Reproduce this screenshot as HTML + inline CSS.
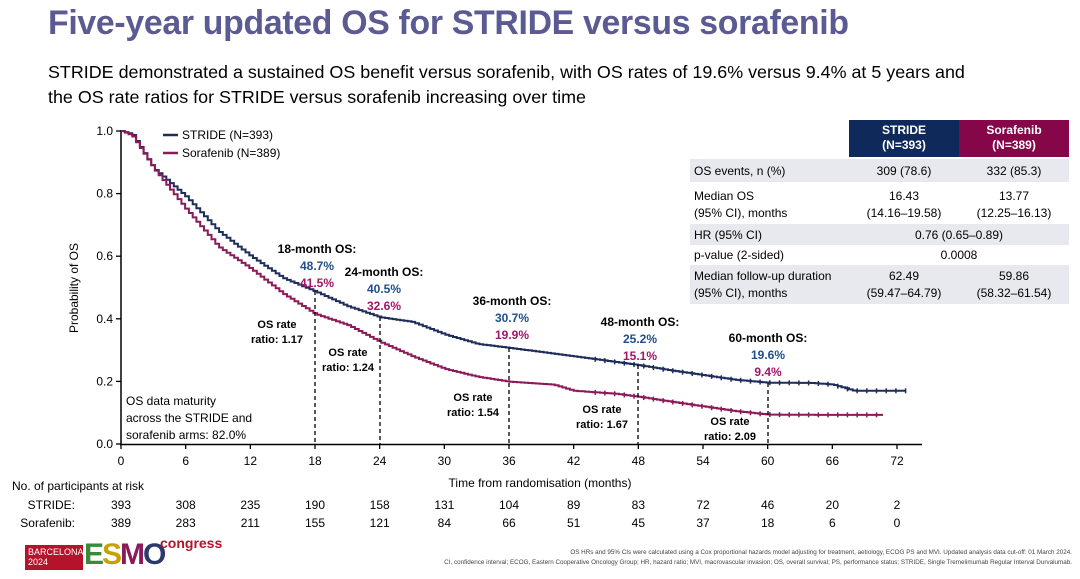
<!DOCTYPE html>
<html><head><meta charset="utf-8"><style>
body{margin:0;width:1080px;height:579px;background:#fff;font-family:"Liberation Sans",Arial,sans-serif;overflow:hidden;position:relative}
.a{position:absolute;white-space:nowrap}
</style></head><body>
<div class="a" style="left:48px;top:4px;font-size:33.8px;font-weight:bold;color:#5b5a93;letter-spacing:-0.3px">Five-year updated OS for STRIDE versus sorafenib</div>
<div class="a" style="left:48px;top:60px;font-size:17.9px;color:#000;line-height:25px">STRIDE demonstrated a sustained OS benefit versus sorafenib, with OS rates of 19.6% versus 9.4% at 5 years and<br>the OS rate ratios for STRIDE versus sorafenib increasing over time</div>

<svg class="a" style="left:0;top:0" width="1080" height="579" font-family="Liberation Sans, Arial, sans-serif">
<g stroke="#000" stroke-width="1.5" fill="none">
<line x1="121" y1="130" x2="121" y2="445"/>
<line x1="120" y1="444.5" x2="922" y2="444.5"/>
</g>
<g id="yt" font-size="12" text-anchor="end"></g>
<g id="xt" font-size="12" text-anchor="middle"></g>
<text x="78" y="288" font-size="12" transform="rotate(-90 78 288)" text-anchor="middle">Probability of OS</text>
<text x="540" y="487" font-size="12" text-anchor="middle">Time from randomisation (months)</text>
<g id="curves"></g>
<line x1="163" y1="135" x2="178" y2="135" stroke="#1f2d5c" stroke-width="2.5"/>
<text x="182" y="139" font-size="12">STRIDE (N=393)</text>
<line x1="163" y1="153" x2="178" y2="153" stroke="#8b1a5a" stroke-width="2.5"/>
<text x="182" y="157" font-size="12">Sorafenib (N=389)</text>
<g font-size="12" text-anchor="middle" font-weight="bold">
<text x="317" y="253">18-month OS:</text><text x="317" y="270" fill="#1f4e8c">48.7%</text><text x="317" y="287" fill="#a0166a">41.5%</text>
<text x="384" y="276">24-month OS:</text><text x="384" y="293" fill="#1f4e8c">40.5%</text><text x="384" y="310" fill="#a0166a">32.6%</text>
<text x="512" y="305">36-month OS:</text><text x="512" y="322" fill="#1f4e8c">30.7%</text><text x="512" y="339" fill="#a0166a">19.9%</text>
<text x="640" y="326">48-month OS:</text><text x="640" y="343" fill="#1f4e8c">25.2%</text><text x="640" y="360" fill="#a0166a">15.1%</text>
<text x="768" y="342">60-month OS:</text><text x="768" y="359" fill="#1f4e8c">19.6%</text><text x="768" y="376" fill="#a0166a">9.4%</text>
</g>
<g font-size="11" text-anchor="middle" font-weight="bold">
<text x="277" y="328">OS rate</text><text x="277" y="343">ratio: 1.17</text>
<text x="348" y="356">OS rate</text><text x="348" y="371">ratio: 1.24</text>
<text x="473" y="401">OS rate</text><text x="473" y="416">ratio: 1.54</text>
<text x="602" y="413">OS rate</text><text x="602" y="428">ratio: 1.67</text>
<text x="730" y="425">OS rate</text><text x="730" y="440">ratio: 2.09</text>
</g>
<g stroke="#000" stroke-width="1.3" stroke-dasharray="4,3">
<line x1="315" y1="291" x2="315" y2="444"/>
<line x1="380" y1="317" x2="380" y2="444"/>
<line x1="509" y1="348" x2="509" y2="444"/>
<line x1="638" y1="365" x2="638" y2="444"/>
<line x1="768" y1="383" x2="768" y2="444"/>
</g>
<g font-size="12"><text x="126" y="405">OS data maturity</text><text x="126" y="422">across the STRIDE and</text><text x="126" y="439">sorafenib arms: 82.0%</text></g>
<text x="12" y="490" font-size="12">No. of participants at risk</text>
<g id="risk" font-size="12" text-anchor="middle"></g>
<text x="75" y="509" font-size="12" text-anchor="end">STRIDE:</text>
<text x="75" y="527" font-size="12" text-anchor="end">Sorafenib:</text>
</svg>

<div class="a" style="left:690px;top:120px;width:380px;font-size:12px">
<div style="position:absolute;left:159px;top:0;width:110px;height:37px;background:#0f2a5a;color:#fff;font-weight:bold;text-align:center;line-height:15px;padding-top:3px;box-sizing:border-box">STRIDE<br>(N=393)</div>
<div style="position:absolute;left:269px;top:0;width:110px;height:37px;background:#86064a;color:#fff;font-weight:bold;text-align:center;line-height:15px;padding-top:3px;box-sizing:border-box">Sorafenib<br>(N=389)</div>
<div style="position:absolute;left:0;top:39px;width:379px;height:23px;background:#e8e9ee"></div>
<div style="position:absolute;left:0;top:104px;width:379px;height:21px;background:#e8e9ee"></div>
<div style="position:absolute;left:0;top:145px;width:379px;height:39px;background:#e8e9ee"></div>
<div class="a" style="left:4px;top:44px">OS events, n (%)</div>
<div class="a" style="left:159px;width:110px;text-align:center;top:44px">309 (78.6)</div>
<div class="a" style="left:269px;width:110px;text-align:center;top:44px">332 (85.3)</div>
<div class="a" style="left:4px;top:68px;line-height:17px">Median OS<br>(95% CI), months</div>
<div class="a" style="left:159px;width:110px;text-align:center;top:68px;line-height:17px">16.43<br>(14.16–19.58)</div>
<div class="a" style="left:269px;width:110px;text-align:center;top:68px;line-height:17px">13.77<br>(12.25–16.13)</div>
<div class="a" style="left:4px;top:108px">HR (95% CI)</div>
<div class="a" style="left:159px;width:220px;text-align:center;top:108px">0.76 (0.65–0.89)</div>
<div class="a" style="left:4px;top:128px">p-value (2-sided)</div>
<div class="a" style="left:159px;width:220px;text-align:center;top:128px">0.0008</div>
<div class="a" style="left:4px;top:148px;line-height:17px">Median follow-up duration<br>(95% CI), months</div>
<div class="a" style="left:159px;width:110px;text-align:center;top:148px;line-height:17px">62.49<br>(59.47–64.79)</div>
<div class="a" style="left:269px;width:110px;text-align:center;top:148px;line-height:17px">59.86<br>(58.32–61.54)</div>
</div>

<div class="a" style="left:25px;top:545px;width:58px;height:25px;background:#b5122b;color:#fff;font-size:9px;line-height:10px;padding:2px 0 0 3px;box-sizing:border-box">BARCELONA<br>2024</div>
<div class="a" style="left:84px;top:539px;font-size:30px;font-weight:bold;color:#2b3a6b;letter-spacing:-2px;line-height:32px"><span style="color:#3a8a3a">E</span><span style="color:#c8a000">S</span><span style="color:#8b1a5a">M</span>O</div>
<div class="a" style="left:160px;top:535px;font-size:14px;color:#b5122b;font-weight:bold">congress</div>
<div class="a" style="right:8px;top:548px;font-size:6.3px;color:#444;text-align:right;line-height:10px">OS HRs and 95% CIs were calculated using a Cox proportional hazards model adjusting for treatment, aetiology, ECOG PS and MVI. Updated analysis data cut-off: 01 March 2024.<br>CI, confidence interval; ECOG, Eastern Cooperative Oncology Group; HR, hazard ratio; MVI, macrovascular invasion; OS, overall survival; PS, performance status; STRIDE, Single Tremelimumab Regular Interval Durvalumab.</div>

<script>
var NS="http://www.w3.org/2000/svg";
function X(m){return 121+m*776/72}
function Y(p){return 444-p*313}
function el(t,a,p,txt){var e=document.createElementNS(NS,t);for(var k in a)e.setAttribute(k,a[k]);if(txt!==undefined)e.textContent=txt;p.appendChild(e);return e}
var yt=document.getElementById('yt'),xt=document.getElementById('xt'),sv=document.querySelector('svg');
for(var i=0;i<=5;i++){var y=Y(i*0.2);el('line',{x1:116,x2:121,y1:y,y2:y,stroke:'#000','stroke-width':1.3},sv);el('text',{x:113,y:y+4},yt,(i*0.2).toFixed(1))}
for(var m=0;m<=72;m+=6){var x=X(m);el('line',{x1:x,x2:x,y1:444,y2:449,stroke:'#000','stroke-width':1.3},sv);el('text',{x:x,y:465},xt,m)}
var rs=[393,308,235,190,158,131,104,89,83,72,46,20,2],rf=[389,283,211,155,121,84,66,51,45,37,18,6,0],rk=document.getElementById('risk');
for(var j=0;j<13;j++){el('text',{x:X(j*6),y:509},rk,rs[j]);el('text',{x:X(j*6),y:527},rk,rf[j])}
var S=[[0,1],[1,0.99],[3,0.88],[6,0.79],[9,0.68],[12,0.60],[15,0.53],[18,0.487],[21,0.44],[24,0.405],[27,0.39],[30,0.35],[33,0.32],[36,0.307],[42,0.28],[48,0.252],[51,0.235],[54,0.22],[57,0.205],[60,0.196],[64,0.195],[66,0.19],[68,0.17],[73,0.17]];
var F=[[0,1],[1,0.985],[3,0.88],[6,0.75],[9,0.63],[12,0.56],[15,0.48],[18,0.415],[21,0.38],[24,0.326],[27,0.28],[30,0.24],[33,0.215],[36,0.199],[40,0.19],[42,0.17],[46,0.16],[48,0.151],[51,0.135],[54,0.12],[57,0.105],[60,0.094],[65,0.093],[71,0.093]];
function interp(P,m){for(var i=1;i<P.length;i++)if(m<=P[i][0]){var a=P[i-1],b=P[i];return a[1]+(b[1]-a[1])*(m-a[0])/(b[0]-a[0])}return P[P.length-1][1]}
var cv=document.getElementById('curves');
function draw(P,col){var end=P[P.length-1][0],d='M'+X(0)+','+Y(1);
for(var m=0.35;m<=end;m+=0.35){var v=interp(P,m);d+='H'+X(m).toFixed(1)+'V'+Y(v).toFixed(1)}
el('path',{d:d,fill:'none',stroke:col,'stroke-width':2},cv);
for(var m=44;m<end;m+=0.9){el('line',{x1:X(m),x2:X(m),y1:Y(interp(P,m))-2.5,y2:Y(interp(P,m))+2.5,stroke:col,'stroke-width':1.5},cv)}}
draw(S,'#1f2d5c');draw(F,'#8b1a5a');
</script>
</body></html>
